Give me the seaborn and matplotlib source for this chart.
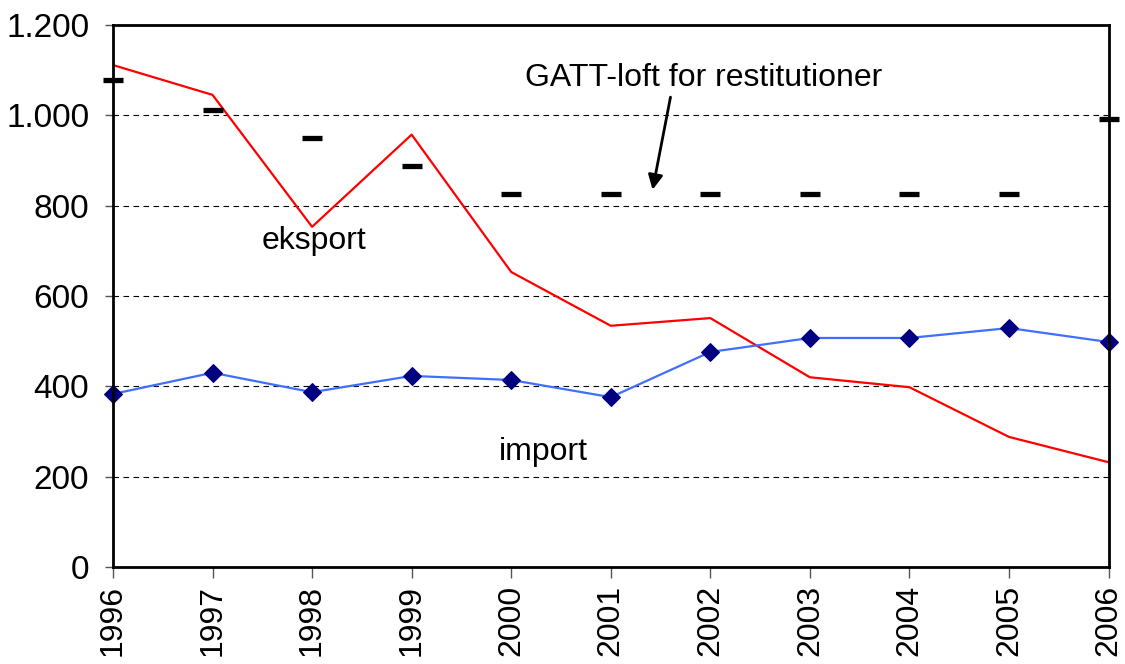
import matplotlib
matplotlib.use("Agg")
import matplotlib.pyplot as plt
from matplotlib.ticker import FuncFormatter
import pandas as pd
import seaborn as sns

# Data
years = [1996, 1997, 1998, 1999, 2000, 2001, 2002, 2003, 2004, 2005, 2006]
eksport = [1111, 1045, 753, 957, 653, 534, 551, 420, 398, 288, 232]
imports = [383, 430, 387, 423, 414, 376, 476, 507, 507, 529, 498]
gatt_loft = [1078, 1012, 950, 888, 826, 826, 826, 826, 826, 826, 992]

df = pd.DataFrame({"year": years, "eksport": eksport, "import": imports, "gatt": gatt_loft})

sns.set_style("white")
plt.rcParams["font.family"] = ["Liberation Sans", "DejaVu Sans"]
plt.rcParams["text.color"] = "black"
plt.rcParams["xtick.color"] = "black"
plt.rcParams["ytick.color"] = "black"

fig = plt.figure(figsize=(11.25, 6.64), dpi=100)
ax = fig.add_axes([0.1004, 0.146, 0.885, 0.8166])

sns.lineplot(data=df, x="year", y="eksport", color="#FF0000", linewidth=1.6, ax=ax)
sns.lineplot(data=df, x="year", y="import", color="#3F6FFF", linewidth=1.6,
             marker="D", markersize=9, markerfacecolor="#000080",
             markeredgecolor="#000080", ax=ax, clip_on=False)
ax.plot(df["year"], df["gatt"], linestyle="none", marker="_", markersize=15,
        markeredgewidth=3.8, color="black", clip_on=False, zorder=5)

ax.set_xlim(1996, 2006)
ax.set_ylim(0, 1200)
ax.set_xticks(years)
ax.set_xticklabels([str(y) for y in years], rotation=90, fontsize=23)
ax.set_yticks(range(0, 1201, 200))
ax.yaxis.set_major_formatter(FuncFormatter(lambda v, p: f"{int(v):,}".replace(",", ".")))
ax.tick_params(axis="y", labelsize=24, length=6, width=1, color="#555555",
               direction="out", left=True, pad=11)
ax.tick_params(axis="x", length=8, width=1, color="#555555", direction="out", bottom=True, pad=5)
ax.set_xlabel("")
ax.set_ylabel("")

for yv in range(200, 1001, 200):
    ax.axhline(yv, color="black", linestyle=(0, (5, 4)), linewidth=0.8, zorder=0)

for s in ax.spines.values():
    s.set_color("black")
    s.set_linewidth(2)

ax.text(1998.02, 722, "eksport", fontsize=23, ha="center", va="center")
ax.text(2000.32, 255, "import", fontsize=23, ha="center", va="center")
ax.text(2001.93, 1083, "GATT-loft for restitutioner", fontsize=23, ha="center", va="center")
ax.annotate("", xy=(2001.42, 835), xytext=(2001.6, 1040),
            arrowprops=dict(arrowstyle="-|>", color="black", lw=2, mutation_scale=22,
                            shrinkA=0, shrinkB=0))

fig.savefig("out.png", dpi=100)
